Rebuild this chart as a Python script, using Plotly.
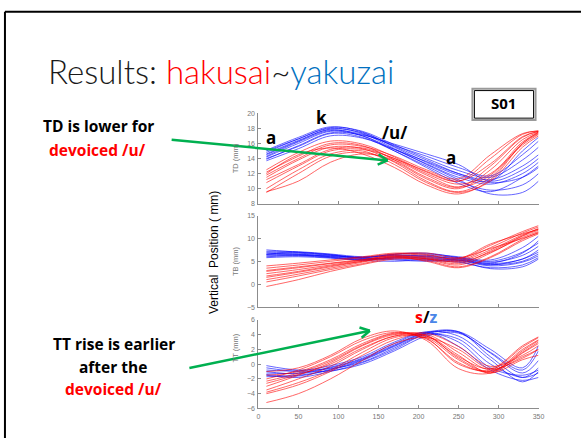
import math
import plotly.graph_objects as go
from plotly.subplots import make_subplots

# Time samples (frames) shared by every articulator trajectory
frames = [10, 50, 90, 130, 170, 210, 250, 290, 330, 350]

# Tongue dorsum (TD) height, mm
td_yakuzai = [
    [14.2, 16.0, 17.6, 17.0, 15.2, 13.3, 11.5, 10.6, 12.0, 13.5],
    [14.5, 16.3, 17.9, 17.4, 15.6, 13.8, 12.0, 10.8, 11.5, 12.8],
    [15.0, 16.6, 18.1, 17.6, 15.8, 14.0, 12.4, 11.5, 13.8, 15.5],
    [14.0, 15.6, 17.3, 16.8, 15.0, 13.0, 11.0, 9.8, 10.5, 12.0],
    [13.7, 15.3, 17.0, 16.7, 15.2, 13.6, 12.0, 11.2, 13.0, 14.5],
    [14.8, 16.6, 18.0, 17.3, 15.3, 13.2, 11.2, 9.3, 9.5, 11.0],
    [14.3, 16.2, 17.7, 17.2, 15.7, 14.3, 12.8, 11.7, 14.5, 16.3],
    [14.6, 16.4, 17.8, 17.0, 15.0, 12.8, 10.7, 9.6, 11.5, 13.0],
    [13.9, 15.7, 17.4, 17.1, 15.9, 14.6, 13.2, 11.0, 12.5, 14.0],
    [15.1, 16.8, 18.2, 17.5, 15.5, 13.5, 11.8, 11.0, 15.0, 16.8],
]
td_hakusai = [
    [9.5, 12.0, 14.3, 14.8, 13.6, 11.3, 10.0, 12.5, 16.5, 17.5],
    [11.5, 13.8, 15.5, 15.3, 13.5, 11.0, 9.6, 11.5, 16.0, 17.3],
    [12.2, 14.3, 16.0, 15.7, 13.8, 11.5, 10.2, 13.0, 16.8, 17.6],
    [10.8, 13.0, 15.0, 15.2, 14.0, 12.0, 10.6, 12.0, 15.8, 17.2],
    [12.5, 14.8, 16.3, 15.9, 14.2, 12.2, 11.0, 14.0, 17.2, 17.7],
    [10.0, 12.5, 14.6, 15.0, 13.2, 10.8, 9.5, 11.0, 15.5, 17.0],
    [11.8, 14.0, 15.8, 15.6, 14.3, 12.5, 11.3, 14.5, 17.3, 17.6],
    [9.6, 11.0, 13.5, 14.6, 13.8, 11.8, 10.2, 11.8, 16.2, 17.4],
    [12.0, 14.5, 15.4, 14.6, 12.8, 10.5, 9.3, 11.2, 16.0, 17.5],
    [11.2, 13.2, 15.2, 15.4, 14.0, 12.3, 11.0, 13.3, 16.9, 17.6],
]

# Tongue blade (TB) height, mm
tb_yakuzai = [
    [7.0, 6.8, 6.3, 5.8, 6.2, 6.0, 5.6, 4.5, 5.5, 7.5],
    [6.5, 6.6, 6.0, 5.5, 5.8, 5.6, 5.2, 4.0, 4.8, 6.2],
    [6.0, 6.2, 5.8, 5.3, 6.0, 6.3, 5.8, 5.0, 7.0, 9.0],
    [7.5, 7.0, 6.5, 5.7, 5.5, 5.2, 4.8, 3.6, 4.2, 5.8],
    [6.8, 6.5, 6.2, 5.9, 6.5, 6.6, 6.0, 5.3, 8.0, 10.5],
    [6.2, 6.3, 6.1, 5.6, 5.3, 5.0, 5.3, 4.2, 5.5, 7.0],
    [6.6, 6.9, 6.4, 5.8, 6.6, 6.8, 5.8, 4.8, 6.3, 8.3],
    [5.8, 6.0, 5.7, 5.2, 5.0, 5.4, 5.0, 3.4, 3.8, 5.5],
    [7.2, 7.1, 6.6, 6.0, 6.3, 6.1, 5.5, 4.6, 6.8, 9.5],
    [6.4, 6.4, 5.9, 5.4, 5.7, 5.8, 5.3, 4.3, 5.0, 6.6],
]
tb_hakusai = [
    [-0.5, 1.0, 2.8, 4.3, 5.5, 5.5, 5.0, 7.5, 10.8, 12.0],
    [3.0, 3.8, 4.6, 5.4, 6.2, 6.0, 5.2, 8.0, 11.2, 12.5],
    [1.5, 2.6, 3.8, 5.0, 6.0, 5.8, 4.8, 7.0, 10.2, 11.5],
    [4.0, 4.6, 5.3, 6.0, 6.8, 6.5, 5.5, 8.5, 11.5, 12.8],
    [0.5, 1.8, 3.2, 4.5, 5.7, 5.2, 3.8, 6.0, 9.8, 11.3],
    [2.3, 3.2, 4.2, 5.2, 6.2, 5.5, 4.2, 6.8, 10.5, 11.8],
    [3.5, 4.2, 5.0, 5.8, 6.6, 6.3, 5.6, 8.8, 11.0, 12.0],
    [1.0, 2.2, 3.5, 4.8, 6.0, 5.0, 3.6, 5.8, 9.5, 11.0],
    [2.8, 3.6, 4.5, 5.3, 6.5, 6.8, 5.8, 7.8, 10.0, 11.2],
    [1.8, 2.8, 4.0, 5.0, 5.8, 5.6, 4.5, 7.2, 10.6, 12.2],
]

# Tongue tip (TT) height, mm
tt_yakuzai = [
    [-0.2, -0.8, -0.6, 0.3, 2.2, 4.0, 3.4, 0.0, -1.8, -1.2],
    [-1.0, -1.3, -0.5, 0.7, 2.6, 4.2, 3.0, -0.5, -1.5, -0.8],
    [-1.5, -1.8, -1.0, 0.2, 2.0, 4.1, 4.3, 1.5, -1.2, 0.5],
    [-0.8, -0.9, -0.2, 1.0, 3.0, 4.3, 2.4, -0.8, -2.2, -1.8],
    [-1.7, -1.5, -0.8, 0.5, 2.4, 4.2, 4.4, 2.0, -0.5, 2.5],
    [-1.2, -1.2, -0.4, 0.8, 2.8, 4.4, 3.8, 0.6, -2.4, -1.0],
    [-0.5, -1.0, -0.9, 0.0, 1.8, 3.8, 4.2, 1.6, -0.8, 1.8],
    [-1.4, -1.6, -0.7, 0.6, 2.5, 4.3, 4.4, 1.0, -1.8, -0.5],
]
tt_hakusai = [
    [-5.2, -4.0, -2.0, 0.5, 2.8, 3.6, 2.0, -0.6, 0.8, 2.0],
    [-3.8, -2.5, -0.8, 1.6, 3.6, 3.8, 1.2, -1.2, 1.5, 2.8],
    [-3.0, -1.5, 0.2, 2.5, 4.0, 3.9, 0.8, -1.0, 2.0, 3.3],
    [-2.0, -0.8, 1.0, 3.2, 4.3, 3.5, 0.0, -0.8, 2.3, 3.6],
    [-1.0, -0.5, 1.2, 3.5, 4.5, 3.2, -0.6, -1.2, 1.8, 3.2],
    [-2.6, -1.4, 0.0, 2.2, 3.8, 4.2, 2.4, -0.3, 1.2, 2.5],
    [-3.5, -2.0, -0.3, 2.0, 3.8, 3.6, 0.6, -1.2, 0.6, 1.2],
    [-1.5, -1.0, 0.6, 2.8, 4.2, 3.8, 1.0, -0.6, 2.5, 3.7],
    [-4.0, -2.8, -1.0, 1.2, 3.3, 4.0, 1.6, -0.8, 1.0, 2.0],
    [-2.3, -1.2, 0.4, 2.6, 4.1, 3.4, 0.2, -1.0, 1.6, 3.0],
]

panels = [
    ("TD (mm)", td_hakusai, td_yakuzai, [8, 20], 2),
    ("TB (mm)", tb_hakusai, tb_yakuzai, [-5, 15], 5),
    ("TT (mm)", tt_hakusai, tt_yakuzai, [-6, 6], 2),
]
x_ticks = [0, 50, 100, 150, 200, 250, 300, 350]

W, H = 581, 438


def px(x):
    return x / W


def py(y):
    return 1 - y / H


# plot areas in page pixels (left, right, top, bottom)
boxes = [(260, 544, 111, 203), (260, 544, 215, 308), (260, 544, 321, 411)]

fig = make_subplots(rows=3, cols=1)
RED, BLUE = "#ff0000", "#0000ff"
for i, (label, red_set, blue_set, yr, dt) in enumerate(panels, start=1):
    for ys in blue_set:
        fig.add_trace(go.Scatter(x=frames, y=ys, mode="lines", opacity=0.85,
                                 line=dict(color=BLUE, width=0.7, shape="spline"),
                                 hoverinfo="skip", showlegend=False), row=i, col=1)
    for ys in red_set:
        fig.add_trace(go.Scatter(x=frames, y=ys, mode="lines", opacity=0.85,
                                 line=dict(color=RED, width=0.7, shape="spline"),
                                 hoverinfo="skip", showlegend=False), row=i, col=1)
    l, r, t, b = boxes[i - 1]
    axis_style = dict(showline=True, linecolor="#8c8c8c", linewidth=1, ticks="inside", ticklen=3,
                      tickcolor="#8c8c8c", showgrid=False, zeroline=False, ticklabelstandoff=1,
                      tickfont=dict(family="Arial", size=7, color="#777777"))
    fig.update_xaxes(range=[0, 350], tickvals=x_ticks, showticklabels=(i == 3), domain=[px(l), px(r)],
                     **axis_style, row=i, col=1)
    fig.update_yaxes(range=yr, dtick=dt, tick0=yr[0], domain=[py(b), py(t)], **axis_style, row=i, col=1)
    fig.add_annotation(text=label, xref="paper", yref="paper", x=px(237), y=py((t + b) / 2),
                       textangle=-90, showarrow=False, font=dict(family="Arial", size=7.5, color="#777777"))

ann = []
bold = "Open Sans"


def text(s, x, y, size=14, color="black", family=bold, **kw):
    ann.append(dict(text=s, xref="paper", yref="paper", x=px(x), y=py(y), showarrow=False,
                    font=dict(family=family, size=size, color=color), xanchor="center", yanchor="middle", **kw))


# slide title
ann.append(dict(text="Results: <span style='color:#ff0000'>hakusai</span>~<span style='color:#0070c0'>yakuzai</span>",
                xref="paper", yref="paper", x=px(45), y=py(68), xanchor="left", yanchor="middle",
                showarrow=False, font=dict(family="Lato", size=33, color="#1a1a1a", weight=300)))

# speaker notes on the left
text("<b>TD is lower for</b>", 98, 124, 15.5)
text("<b>devoiced /u/</b>", 97, 148, 15.5, "#ff0000")
text("<b>TT rise is earlier</b>", 114, 346, 15.5)
text("<b>after the</b>", 113, 369, 15.5)
text("<b>devoiced /u/</b>", 113, 391, 15.5, "#ff0000")

# segment labels
text("<b>a</b>", 273, 136, 17)
text("<b>k</b>", 324, 115, 17)
text("<b>/u/</b>", 398, 131, 17)
text("<b>a</b>", 455, 156, 17)
text("<b><span style='color:#ff0000'>s</span>/<span style='color:#4a86e8'>z</span></b>", 430, 318, 16)

# speaker ID
text("<b>S01</b>", 509, 101, 15)

# common y label
text("Vertical  Position ( mm)", 215, 253, 12, "black", "Arial", textangle=-90)

fig.update_layout(annotations=list(fig.layout.annotations) + ann)

shapes = []
# slide frame
shapes.append(dict(type="line", xref="paper", yref="paper", x0=px(3), x1=px(3), y0=py(8), y1=py(445),
                   line=dict(color="black", width=2)))
shapes.append(dict(type="line", xref="paper", yref="paper", x0=px(3), x1=px(590), y0=py(8), y1=py(8),
                   line=dict(color="black", width=2)))
# speaker ID frame (double border)
shapes.append(dict(type="rect", xref="paper", yref="paper", x0=px(477), x1=px(541), y0=py(86), y1=py(118),
                   line=dict(color="#9a9a9a", width=2)))
shapes.append(dict(type="rect", xref="paper", yref="paper", x0=px(479), x1=px(539), y0=py(88), y1=py(116),
                   line=dict(color="black", width=1)))


def arrow(x0, y0, x1, y1, color="#00b050", w=2.5, head=11, spread=0.5):
    shapes.append(dict(type="line", xref="paper", yref="paper", x0=px(x0), y0=py(y0), x1=px(x1), y1=py(y1),
                       line=dict(color=color, width=w)))
    ang = math.atan2(y1 - y0, x1 - x0)
    for s in (spread, -spread):
        hx = x1 - head * math.cos(ang + s)
        hy = y1 - head * math.sin(ang + s)
        shapes.append(dict(type="line", xref="paper", yref="paper", x0=px(hx), y0=py(hy), x1=px(x1), y1=py(y1),
                           line=dict(color=color, width=w)))


arrow(172, 138, 391, 159)
arrow(190, 370, 373, 332)

fig.update_layout(shapes=shapes, width=W, height=H, margin=dict(l=0, r=0, t=0, b=0),
                  paper_bgcolor="white", plot_bgcolor="white")

fig.write_html("out.html")
